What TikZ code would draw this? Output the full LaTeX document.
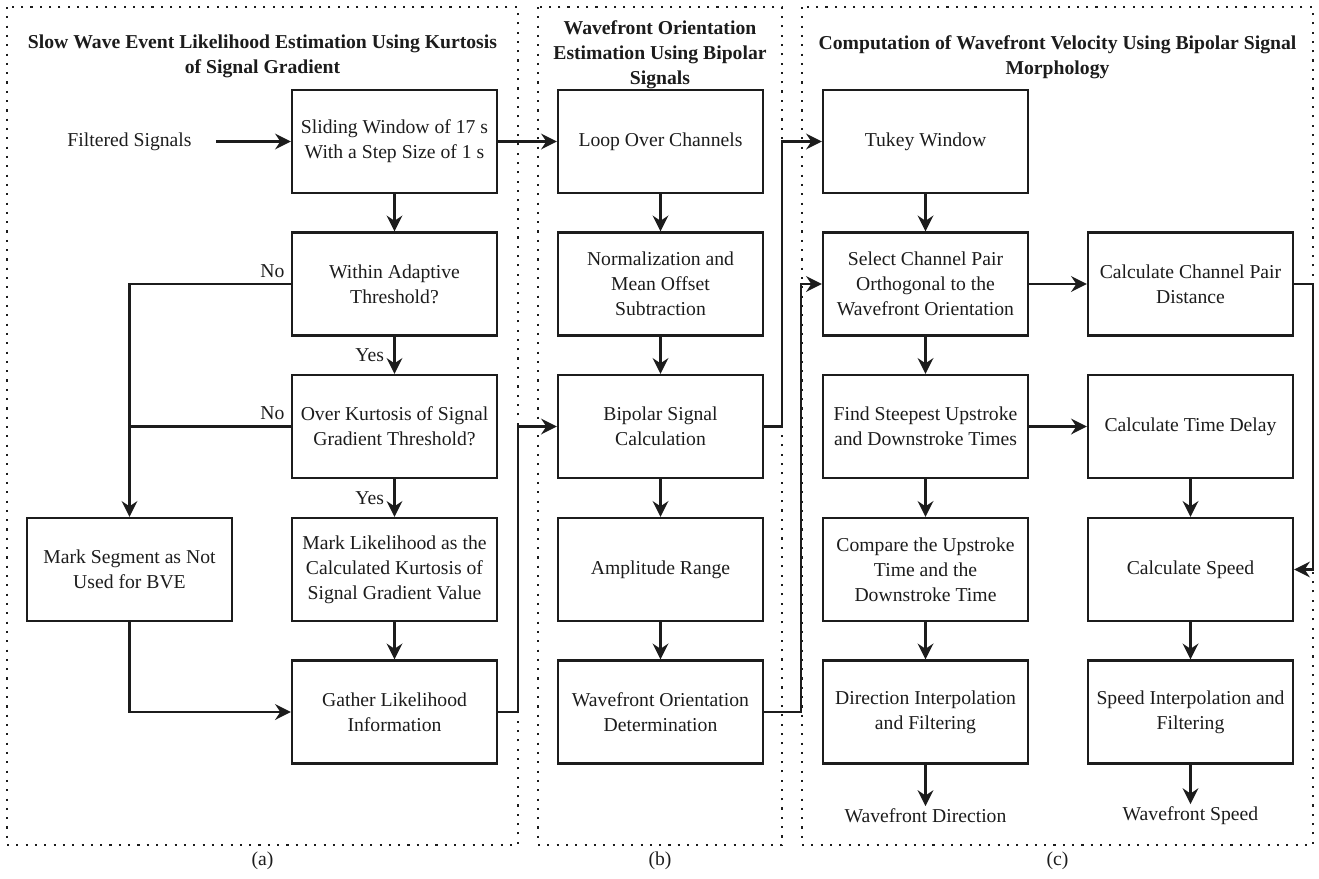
\documentclass[tikz,border=0pt]{standalone}
\usepackage{fontspec}
\setmainfont{Liberation Serif}
\usetikzlibrary{arrows.meta}
\definecolor{ink}{HTML}{1C1C1C}

\begin{document}
\begin{tikzpicture}[
  x=0.02cm, y=-0.02cm,
  line width=1.3pt,
  every node/.style={font=\fontsize{11.2}{14.2}\selectfont, text=ink},
  procbox/.style={draw=ink, line width=1.3pt, minimum width=4.1cm,
               minimum height=2.06cm, align=center, inner sep=2pt},
  paneltitle/.style={align=center, font=\fontsize{11.2}{14.2}\bfseries},
  panelframe/.style={draw=ink, line width=1.2pt, dash pattern=on 1.2pt off 4.1pt},
  flow/.style={draw=ink, -{Stealth[length=9pt, width=9pt, inset=3pt]}},
  link/.style={draw=ink}
]
  \useasboundingbox (0,0) rectangle (1319,879);

  % panels
  \draw[panelframe] (7,7)   rectangle (518,845);
  \draw[panelframe] (538,7) rectangle (782,845);
  \draw[panelframe] (802,7) rectangle (1313,845);
  \coordinate (ea) at (518,0);
  \coordinate (eb) at (782,0);
  \coordinate (wc) at (801,0);
  \coordinate (ec) at (1313,0);

  \node[paneltitle] (ttla) at (262.5,56) {Slow Wave Event Likelihood Estimation Using Kurtosis\\of Signal Gradient};
  \node[paneltitle] (ttlb) at (660,55) {Wavefront Orientation\\Estimation Using Bipolar\\Signals};
  \node[paneltitle] (ttlc) at (1057.5,57) {Computation of Wavefront Velocity Using Bipolar Signal\\Morphology};

  \node (capa) at (262.5,861) {(a)};
  \node (capb) at (660,861) {(b)};
  \node (capc) at (1057.5,861) {(c)};

  % (a) likelihood estimation
  \node (insig) at (129.5,141.5) {Filtered Signals};
  \node[procbox] (slide)  at (394.5,141.5) {Sliding Window of 17 s\\With a Step Size of 1 s};
  \node[procbox] (within) at (394.5,284)   {Within Adaptive\\Threshold?};
  \node[procbox] (over)   at (394.5,426.5) {Over Kurtosis of Signal\\Gradient Threshold?};
  \node[procbox] (likel)  at (394.5,569.5) {Mark Likelihood as the\\Calculated Kurtosis of\\Signal Gradient Value};
  \node[procbox] (mark)   at (129.5,569.5) {Mark Segment as Not\\Used for BVE};
  \node[procbox] (gather) at (394.5,712)   {Gather Likelihood\\Information};

  \draw[flow, shorten <=10pt] (insig) -- (slide);
  \draw[flow] (slide) -- (within);
  \draw[flow] (within) -- node[midway, left=2pt]{Yes} (over);
  \draw[flow] (over) -- node[midway, left=2pt]{Yes} (likel);
  \draw[flow] (likel) -- (gather);
  \draw[flow] (within.west) node[above left, inner sep=3pt]{No} -| (mark.north);
  \draw[link] (over.west) node[above left, inner sep=3pt]{No} -- (over.west -| mark.north);
  \draw[flow] (mark.south) |- (gather.west);

  % (b) orientation estimation
  \node[procbox] (loop) at (660.5,141.5) {Loop Over Channels};
  \node[procbox] (norm) at (660.5,284)   {Normalization and\\Mean Offset\\Subtraction};
  \node[procbox] (bip)  at (660.5,426.5) {Bipolar Signal\\Calculation};
  \node[procbox] (amp)  at (660.5,569.5) {Amplitude Range};
  \node[procbox] (wod)  at (660.5,712)   {Wavefront Orientation\\Determination};

  \draw[flow] (slide) -- (loop);
  \draw[flow] (gather.east) -| (ea |- bip.west) -- (bip.west);
  \draw[flow] (loop) -- (norm);
  \draw[flow] (norm) -- (bip);
  \draw[flow] (bip) -- (amp);
  \draw[flow] (amp) -- (wod);

  % (c) velocity computation
  \node[procbox] (tukey) at (925.5,141.5) {Tukey Window};
  \node[procbox] (sel)   at (925.5,284)   {Select Channel Pair\\Orthogonal to the\\Wavefront Orientation};
  \node[procbox] (steep) at (925.5,426.5) {Find Steepest Upstroke\\and Downstroke Times};
  \node[procbox] (comp)  at (925.5,569.5) {Compare the Upstroke\\Time and the\\Downstroke Time};
  \node[procbox] (dirf)  at (925.5,712)   {Direction Interpolation\\and Filtering};
  \node[inner sep=1pt] (outdir) at (925.5,816) {Wavefront Direction};

  \node[procbox] (dist)  at (1190.5,284)   {Calculate Channel Pair\\Distance};
  \node[procbox] (delay) at (1190.5,426.5) {Calculate Time Delay};
  \node[procbox] (speed) at (1190.5,569.5) {Calculate Speed};
  \node[procbox] (spdf)  at (1190.5,712)   {Speed Interpolation and\\Filtering};
  \node[inner sep=1pt] (outspd) at (1190.5,816) {Wavefront Speed};

  \draw[flow] (bip.east) -| (eb |- tukey.west) -- (tukey.west);
  \draw[flow] (wod.east) -| (wc |- sel.west) -- (sel.west);
  \draw[flow] (tukey) -- (sel);
  \draw[flow] (sel) -- (steep);
  \draw[flow] (steep) -- (comp);
  \draw[flow] (comp) -- (dirf);
  \draw[flow] (dirf) -- (outdir);
  \draw[flow] (sel) -- (dist);
  \draw[flow] (steep) -- (delay);
  \draw[flow] (delay) -- (speed);
  \draw[flow] (speed) -- (spdf);
  \draw[flow] (spdf) -- (outspd);
  \draw[flow] (dist.east) -| (ec |- speed.east) -- (speed.east);
\end{tikzpicture}
\end{document}
